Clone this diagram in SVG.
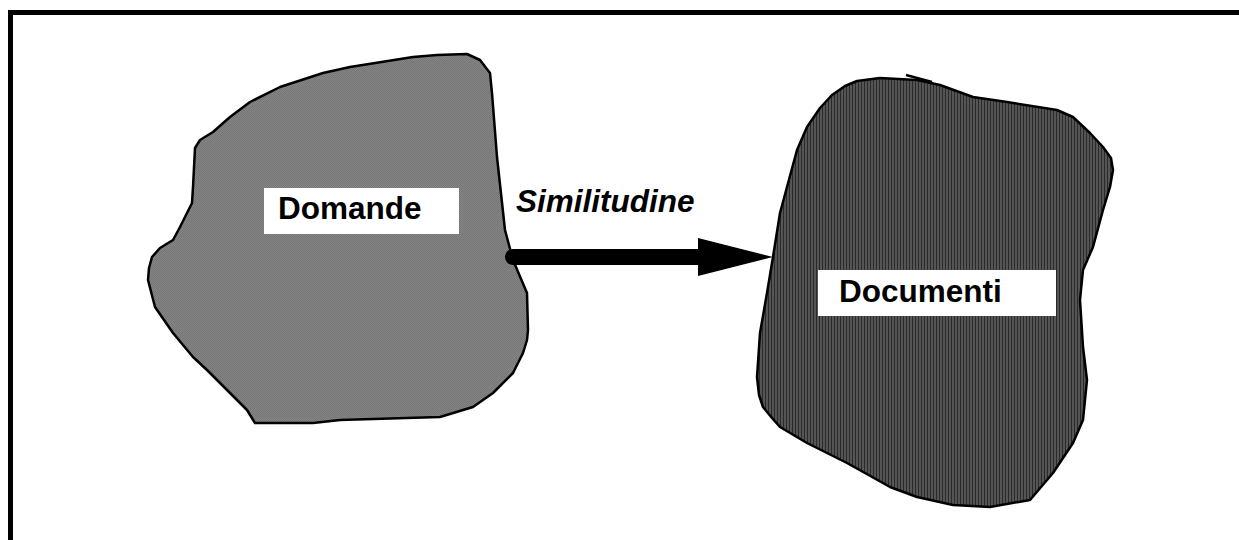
<svg xmlns="http://www.w3.org/2000/svg" width="1239" height="540" viewBox="0 0 1239 540">
<defs>
<pattern id="dots" width="2" height="2" patternUnits="userSpaceOnUse">
<rect width="2" height="2" fill="#858585"/>
<rect width="1" height="1" fill="#767676"/>
<rect x="1" y="1" width="1" height="1" fill="#767676"/>
</pattern>
<pattern id="stripes" width="3" height="3" patternUnits="userSpaceOnUse">
<rect width="3" height="3" fill="#555555"/>
<rect width="1" height="3" fill="#2a2a2a"/>
</pattern>
<style>
.blob{stroke:#000;stroke-width:2.5;stroke-linejoin:round}
.lbl{font-family:"Liberation Sans",Arial,sans-serif;font-weight:bold;font-size:31.5px;fill:#000}
.box{fill:#fff}
</style>
</defs>
<rect width="1239" height="540" fill="#fff"/>
<path d="M10.5,540 V12.5 H1239" fill="none" stroke="#000" stroke-width="5"/>
<g id="domande">
<path class="blob" fill="url(#dots)" d="M467,54 L437,55 L413,57 L350,67 L323,73 L280,87 L250,102 L230,117 L213,132 L200,140 L195,148 L193,187 L192,203 L185,217 L180,227 L173,240 L160,248 L152,257 L149,268 L148,280 L155,307 L173,333 L193,357 L207,370 L227,390 L247,410 L255,423 L313,423 L340,420 L440,417 L473,407 L493,393 L513,373 L523,353 L527,340 L528,330 L527,293 L513,260 L505,230 L497,157 L492,93 L490,73 L480,60 Z"/>
<rect class="box" x="264" y="188" width="195" height="46"/>
<text class="lbl" x="278" y="219">Domande</text>
</g>
<g id="documenti">
<path class="blob" fill="url(#stripes)" d="M857,81 L845,86 L832,95 L820,108 L807,127 L797,150 L787,187 L780,213 L773,257 L767,293 L760,333 L757,377 L759,395 L763,407 L772,418 L780,427 L807,443 L847,463 L890,487 L917,497 L953,505 L990,507 L1030,500 L1053,473 L1073,443 L1083,420 L1087,380 L1083,347 L1080,300 L1083,270 L1093,247 L1103,210 L1110,187 L1113,170 L1111,158 L1103,147 L1090,133 L1073,117 L1057,110 L1007,102 L973,97 L940,85 L917,80 L880,78 Z"/>
<path d="M906,75 L932,82" stroke="#000" stroke-width="2.5" fill="none"/>
<rect class="box" x="818" y="270" width="238" height="46"/>
<text class="lbl" x="839" y="302">Documenti</text>
</g>
<g id="connectors">
<line x1="513" y1="257" x2="700" y2="257" stroke="#000" stroke-width="16" stroke-linecap="round"/>
<polygon points="698,238 773,257 698,276" fill="#000"/>
<text class="lbl" x="516" y="212" font-style="italic">Similitudine</text>
</g>
</svg>
